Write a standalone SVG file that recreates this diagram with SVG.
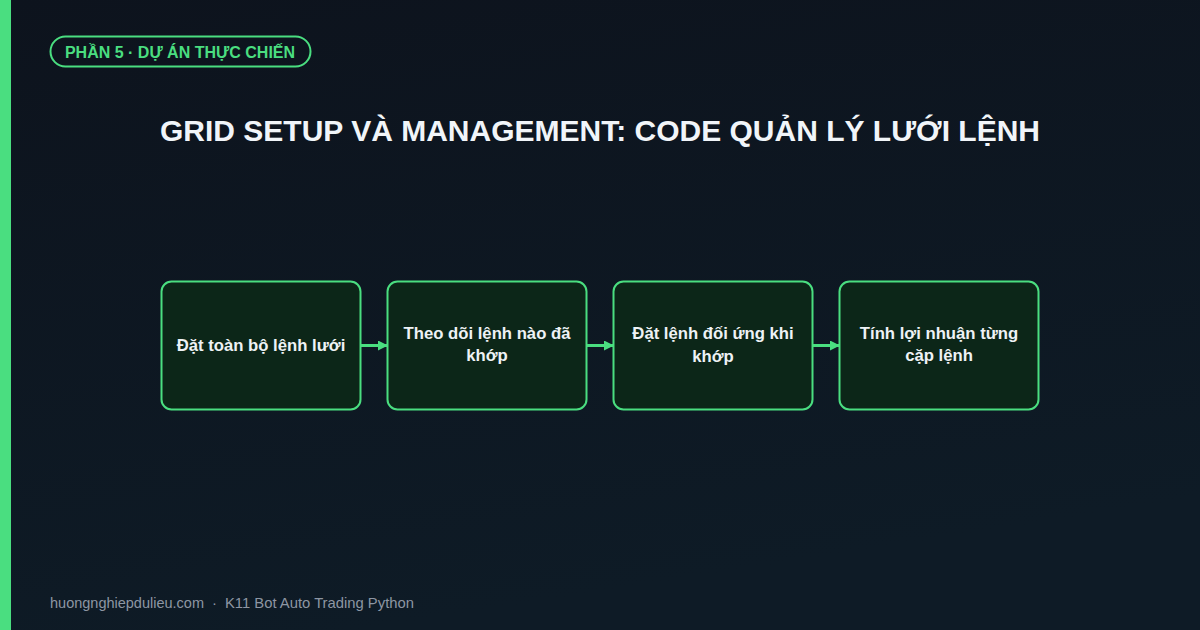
<svg xmlns="http://www.w3.org/2000/svg" width="1200" height="630" viewBox="0 0 1200 630">
<defs>
<linearGradient id="bg" x1="0" y1="0" x2="0.3" y2="1">
<stop offset="0" stop-color="#0d131d"/>
<stop offset="1" stop-color="#0e1b26"/>
</linearGradient>
<marker id="ah" viewBox="0 0 10 10" refX="10" refY="5" markerWidth="10" markerHeight="10" markerUnits="userSpaceOnUse" orient="auto">
<path d="M0,0 L10,5 L0,10 z" fill="#4ade80"/>
</marker>
<style>
.box{fill:#0c2618;stroke:#4ade80;stroke-width:2}
.lbl{font-family:"Liberation Sans",Arial,sans-serif;font-weight:bold;font-size:16.7px;fill:#eef2f5;text-anchor:middle}
.conn{stroke:#4ade80;stroke-width:3;fill:none}
.ft{font-family:"Liberation Sans",Arial,sans-serif;font-size:14.8px;fill:#8d96a3}
</style>
</defs>
<rect width="1200" height="630" fill="url(#bg)"/>
<rect x="0" y="0" width="11" height="630" fill="#4ade80"/>
<g id="badge">
<rect x="50.5" y="36.5" width="260" height="30" rx="15" fill="none" stroke="#4ade80" stroke-width="2"/>
<text x="180" y="57.5" text-anchor="middle" font-family="'Liberation Sans',Arial,sans-serif" font-weight="bold" font-size="16" fill="#4ade80">PHẦN 5 · DỰ ÁN THỰC CHIẾN</text>
</g>
<text id="title" x="600" y="141" text-anchor="middle" font-family="'Liberation Sans',Arial,sans-serif" font-weight="bold" font-size="30" fill="#f1f5f9">GRID SETUP VÀ MANAGEMENT: CODE QUẢN LÝ LƯỚI LỆNH</text>
<g id="connectors">
<line class="conn" x1="361" y1="345.5" x2="388" y2="345.5" marker-end="url(#ah)"/>
<line class="conn" x1="587" y1="345.5" x2="614" y2="345.5" marker-end="url(#ah)"/>
<line class="conn" x1="813" y1="345.5" x2="840" y2="345.5" marker-end="url(#ah)"/>
</g>
<g id="n1">
<rect class="box" x="161.5" y="281.5" width="199" height="128" rx="10"/>
<text class="lbl" x="261" y="351">Đặt toàn bộ lệnh lưới</text>
</g>
<g id="n2">
<rect class="box" x="387.5" y="281.5" width="199" height="128" rx="10"/>
<text class="lbl" x="487" y="339">Theo dõi lệnh nào đã</text>
<text class="lbl" x="487" y="361">khớp</text>
</g>
<g id="n3">
<rect class="box" x="613.5" y="281.5" width="199" height="128" rx="10"/>
<text class="lbl" x="713" y="339">Đặt lệnh đối ứng khi</text>
<text class="lbl" x="713" y="362">khớp</text>
</g>
<g id="n4">
<rect class="box" x="839.5" y="281.5" width="199" height="128" rx="10"/>
<text class="lbl" x="939" y="339">Tính lợi nhuận từng</text>
<text class="lbl" x="939" y="361">cặp lệnh</text>
</g>
<g id="footer">
<text class="ft" x="50" y="608" style="font-size:14.5px">huongnghiepdulieu.com</text>
<text class="ft" x="212" y="608">·</text>
<text class="ft" x="225" y="608">K11 Bot Auto Trading Python</text>
</g>
</svg>
